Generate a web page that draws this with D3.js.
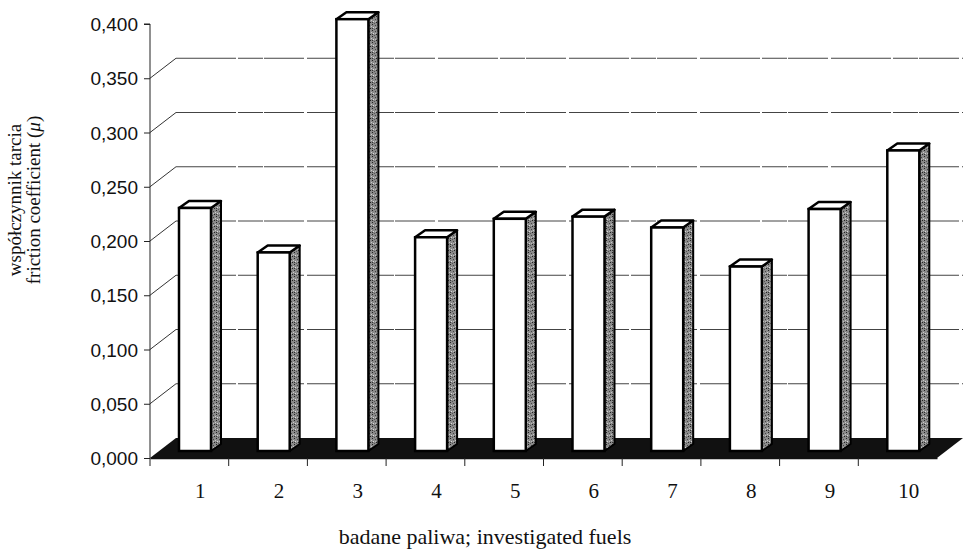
<!DOCTYPE html>
<html>
<head>
<meta charset="utf-8">
<script src="https://cdn.jsdelivr.net/npm/d3@7"></script>
<style>
  html, body { margin: 0; padding: 0; background: #fff; }
  svg { display: block; }
</style>
</head>
<body>
<svg id="chart" width="963" height="550"></svg>
<script>
const categories = ["1", "2", "3", "4", "5", "6", "7", "8", "9", "10"];
const values = [0.224, 0.183, 0.398, 0.197, 0.214, 0.216, 0.206, 0.170, 0.223, 0.277];
const yTicks = [0, 0.05, 0.1, 0.15, 0.2, 0.25, 0.3, 0.35, 0.4];
const yTitle1 = "współczynnik tarcia";
const yTitle2 = "friction coefficient (";
const xTitle = "badane paliwa; investigated fuels";

const svg = d3.select("#chart");
const x0 = 150, x1 = 937, yBase = 458, yTop = 24;
const depthX = 26, depthY = -20;     // wall depth
const barDX = 10, barDY = -7;        // bar depth
const barOffX = 0, barOffY = -7;     // bar position within depth

const x = d3.scaleBand().domain(categories).range([x0, x1]).paddingInner(0).paddingOuter(0);
const y = d3.scaleLinear().domain([0, 0.4]).range([yBase, yTop]);
const barW = 32;
const barLeft = c => x(c) + 29;

// pattern for bar side faces
const defs = svg.append("defs");
const pat = defs.append("pattern").attr("id", "stip").attr("patternUnits", "userSpaceOnUse")
  .attr("width", 6).attr("height", 6);
pat.append("rect").attr("width", 6).attr("height", 6).attr("fill", "#8a8a8a");
[[0,0,"#222"],[3,1,"#444"],[1,3,"#d8d8d8"],[4,4,"#222"],[2,5,"#555"],[5,2,"#c8c8c8"],[0,4,"#333"],[3,3,"#bbb"]].forEach(([a,b,c]) =>
  pat.append("rect").attr("x", a).attr("y", b).attr("width", 1).attr("height", 1).attr("fill", c));

// back wall gridlines and side wall diagonals
const gridTicks = yTicks.filter(t => t > 0 && t < 0.4);
svg.append("g").selectAll("line.grid").data(gridTicks).join("line")
  .attr("x1", x0 + depthX).attr("x2", 963)
  .attr("y1", d => y(d) + depthY).attr("y2", d => y(d) + depthY)
  .attr("stroke", "#444").attr("stroke-width", 1).attr("stroke-dasharray", "60,2,25,1,40,3");
svg.append("g").selectAll("line.diag").data(gridTicks).join("line")
  .attr("x1", x0).attr("x2", x0 + depthX)
  .attr("y1", d => y(d)).attr("y2", d => y(d) + depthY)
  .attr("stroke", "#333").attr("stroke-width", 1);

// floor
svg.append("path")
  .attr("d", `M${x0},${yBase}L${x1},${yBase}L${x1 + depthX},${yBase + depthY}L${x0 + depthX},${yBase + depthY}Z`)
  .attr("fill", "#111");

// y axis
const yAxis = d3.axisLeft(y).tickValues(yTicks).tickSize(6)
  .tickFormat(d => d3.format(".3f")(d).replace(".", ","));
const gy = svg.append("g").attr("transform", `translate(${x0},0)`).call(yAxis);
gy.select(".domain").attr("stroke", "#222").attr("d", `M-6,${yTop}H0V${yBase + 8}`);
gy.selectAll(".tick line").attr("stroke", "#222");
gy.selectAll(".tick text").attr("font-family", "Liberation Sans, Arial, sans-serif")
  .attr("font-size", 19).attr("fill", "#111").attr("x", -12).attr("dy", "0.35em");

// x axis
const xAxis = d3.axisBottom(x).tickSize(0).tickFormat("");
const gx = svg.append("g").attr("transform", `translate(0,${yBase})`).call(xAxis);
gx.select(".domain").attr("stroke", "#111").attr("stroke-width", 1.5);
gx.selectAll(".sep").data(categories.slice(1)).join("line").attr("class", "sep")
  .attr("x1", d => x(d)).attr("x2", d => x(d)).attr("y1", 0).attr("y2", 8)
  .attr("stroke", "#222");

// category labels
svg.append("g").selectAll("text").data(categories).join("text")
  .attr("x", d => x(d) + x.bandwidth() / 2 + 11)
  .attr("y", 498)
  .attr("text-anchor", "middle")
  .attr("font-family", "Liberation Serif, Times New Roman, serif")
  .attr("font-size", 21).attr("fill", "#111")
  .text(d => d);

// bars
const bars = svg.append("g").selectAll("g").data(categories.map((c, i) => ({ c, v: values[i] }))).join("g");
bars.each(function(d) {
  const g = d3.select(this);
  const xl = barLeft(d.c) + barOffX, xr = xl + barW;
  const yb = y(0) + barOffY, yt = y(d.v) + barOffY;
  g.append("path").attr("d", `M${xr},${yb}L${xr},${yt}L${xr + barDX},${yt + barDY}L${xr + barDX},${yb + barDY}Z`)
    .attr("fill", "url(#stip)").attr("stroke", "#000").attr("stroke-width", 2).attr("stroke-linejoin", "round");
  g.append("path").attr("d", `M${xl},${yt}L${xr},${yt}L${xr + barDX},${yt + barDY}L${xl + barDX},${yt + barDY}Z`)
    .attr("fill", "#fff").attr("stroke", "#000").attr("stroke-width", 2.5).attr("stroke-linejoin", "round");
  g.append("rect").attr("x", xl).attr("y", yt).attr("width", barW).attr("height", yb - yt)
    .attr("fill", "#fff").attr("stroke", "#000").attr("stroke-width", 2.5);
});

// y title
const yt = svg.append("text")
  .attr("transform", "translate(0,200) rotate(-90)")
  .attr("text-anchor", "middle")
  .attr("font-family", "Liberation Serif, Times New Roman, serif")
  .attr("font-size", 19).attr("fill", "#111");
yt.append("tspan").attr("x", 0).attr("y", 21).text(yTitle1);
const t2 = yt.append("tspan").attr("x", 0).attr("y", 40).text(yTitle2);
t2.append("tspan").attr("font-style", "italic").text("μ");
t2.append("tspan").text(")");

// x title
svg.append("text").attr("x", 485).attr("y", 544).attr("text-anchor", "middle")
  .attr("font-family", "Liberation Serif, Times New Roman, serif")
  .attr("font-size", 22).attr("fill", "#111").text(xTitle);
</script>
</body>
</html>
